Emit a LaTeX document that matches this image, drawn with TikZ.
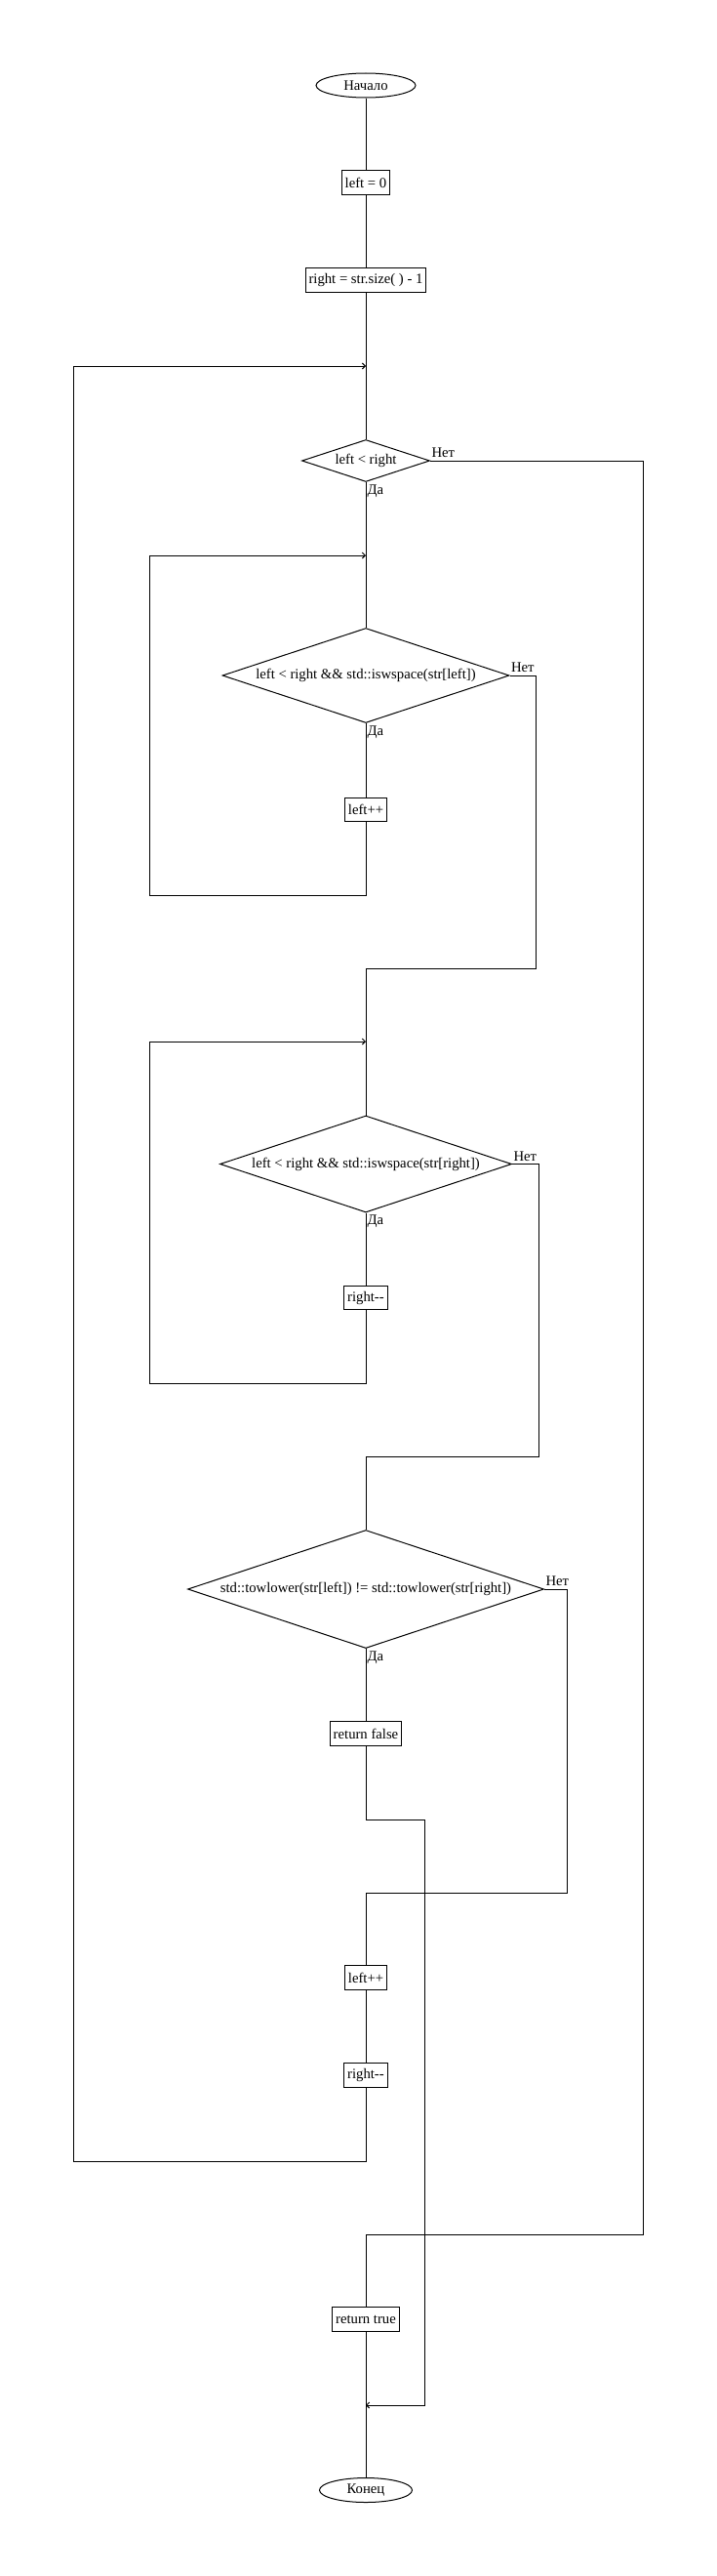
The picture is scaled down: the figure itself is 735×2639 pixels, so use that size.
\documentclass[tikz,border=0pt]{standalone}
\usepackage{fontspec}
\setmainfont{Liberation Serif}[Ligatures=TeXOff]
\usetikzlibrary{arrows.meta,positioning,shapes.geometric}
\tikzset{blk/.style={rectangle, draw, inner xsep=3.5pt, inner ysep=0pt, minimum height=24.5pt},
         cond/.style 2 args={diamond, draw, aspect=3.5, inner sep=0pt,
            minimum width=#1, minimum height=#2},
         term/.style={ellipse, draw, inner sep=0pt, minimum width=#1, minimum height=25pt},
         yes/.style={anchor=north west, inner xsep=1pt, inner ysep=2pt},
         no/.style={anchor=south west, inner xsep=1pt, inner ysep=2.5pt}}

\begin{document}
\begin{tikzpicture}[x=1pt, y=-1pt, line width=1pt, >={Straight Barb[length=3pt,width=6pt]},
    font=\fontsize{14.7}{17}\selectfont]
\path[fill=white] (0,0) rectangle (735,2639);
% main column
 \node[term=102pt] (start) at (375,87.5) {Начало};
 \node[blk] (init1) at (375,187) {left = 0};
 \node[blk] (init2) at (375,287) {right = str.size( ) - 1};
 \coordinate (j1) at (375,375);
 \node[cond={131pt}{43pt}] (c1) at (375,472) {left < right};
 \coordinate (j2) at (375,569);
 \node[cond={294pt}{97pt}] (c2) at (375,692) {left < right \&\& std::iswspace(str[left])};
 \node[blk] (inc1) at (375,829.5) {left++};
 \coordinate (j3) at (375,992);
 \coordinate (j4) at (375,1067);
 \node[cond={299pt}{99pt}] (c3) at (375,1192.5) {left < right \&\& std::iswspace(str[right])};
 \node[blk] (dec1) at (375,1329.5) {right--};
 \coordinate (j5) at (375,1492);
 \node[cond={365pt}{121pt}] (c4) at (375,1628) {std::towlower(str[left]) != std::towlower(str[right])};
 \node[blk] (retf) at (375,1776) {return false};
 \coordinate (j6) at (375,1939);
 \node[blk] (inc2) at (375,2026) {left++};
 \node[blk] (dec2) at (375,2126) {right--};
 \coordinate (j7) at (375,2289);
 \node[blk] (rett) at (375,2376) {return true};
 \coordinate (j8) at (375,2464);
 \node[term=95pt] (stop) at (375,2551) {Конец};
% corners
 \coordinate (b1) at (375,2214); \coordinate (l1) at (75,375);
 \coordinate (b2) at (375,917);  \coordinate (l2) at (153,569);
 \coordinate (b3) at (375,1417); \coordinate (l3) at (153,1067);
 \coordinate (b4) at (375,1864); \coordinate (r5) at (435,2464);
 \coordinate (r1) at (659,2289); \coordinate (r2) at (549,992);
 \coordinate (r3) at (552,1492); \coordinate (r4) at (581,1939);
% labels
 \node[no] (n1) at (c1.east) {Нет};
 \node[yes] (y1) at (c1.south) {Да};
 \node[no] (n2) at (c2.east) {Нет};
 \node[yes] (y2) at (c2.south) {Да};
 \node[no] (n3) at (c3.east) {Нет};
 \node[yes] (y3) at (c3.south) {Да};
 \node[no] (n4) at (c4.east) {Нет};
 \node[yes] (y4) at (c4.south) {Да};
% connectors
 \draw (start) -- (init1);
 \draw (init1) -- (init2);
 \draw (init2) -- (c1);
 \draw (c1) -- (c2);
 \draw (c2) -- (inc1);
 \draw[->] (inc1) -- (b2) -| (l2) -- (j2);
 \draw (c2.east) -| (r2) -- (j3);
 \draw (j3) -- (c3);
 \draw (c3) -- (dec1);
 \draw[->] (dec1) -- (b3) -| (l3) -- (j4);
 \draw (c3.east) -| (r3) -- (j5);
 \draw (j5) -- (c4);
 \draw (c4) -- (retf);
 \draw[->] (retf) -- (b4) -| (r5) -- (j8);
 \draw (c4.east) -| (r4) -- (j6);
 \draw (j6) -- (inc2);
 \draw (inc2) -- (dec2);
 \draw[->] (dec2) -- (b1) -| (l1) -- (j1);
 \draw (c1.east) -| (r1) -- (j7);
 \draw (j7) -- (rett);
 \draw (rett) -- (stop);
\end{tikzpicture}
\end{document}
